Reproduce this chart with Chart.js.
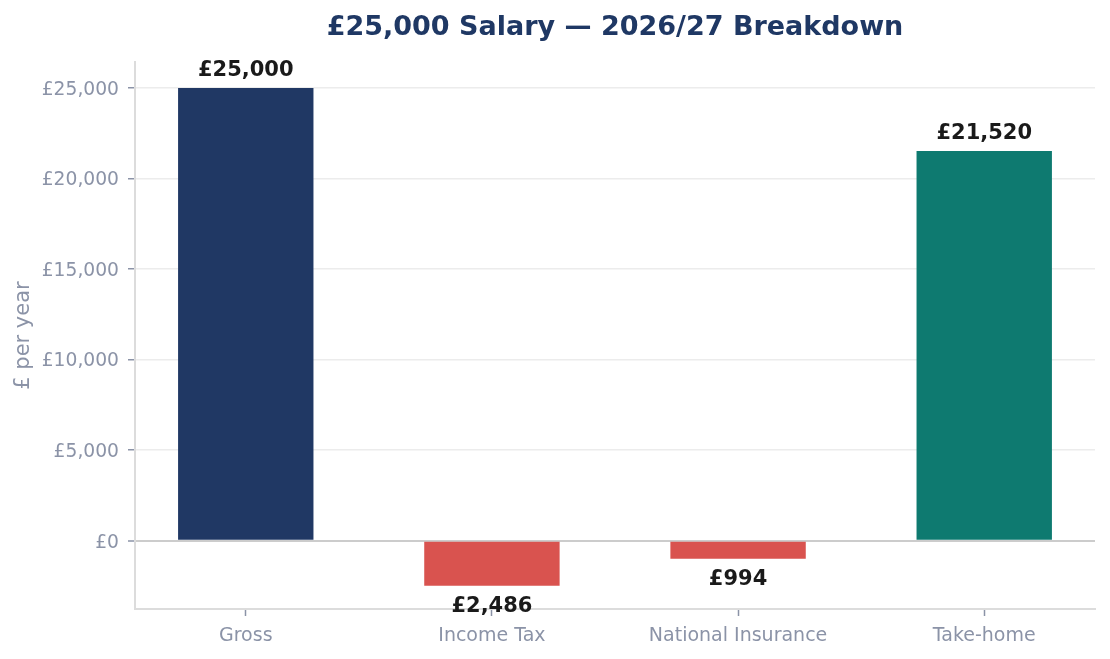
<!DOCTYPE html>
<html>
<head>
<meta charset="utf-8">
<script src="https://cdn.jsdelivr.net/npm/chart.js@4.4.1/dist/chart.umd.min.js"></script>
<style>
html, body { margin: 0; padding: 0; background: #fff; }
#wrap { width: 1110px; height: 659px; position: relative; }
</style>
</head>
<body>
<div id="wrap"><canvas id="grafico"></canvas></div>
<script>
// Datos del gráfico
const titulo = '£25,000 Salary — 2026/27 Breakdown';
const categorias = ['Gross', 'Income Tax', 'National Insurance', 'Take-home'];
const importes = [25000, -2486, -994, 21520];
const colores = ['#203864', '#d9534f', '#d9534f', '#0e7a70'];
const marcasY = [0, 5000, 10000, 15000, 20000, 25000];

const gris = '#8b93a7';
const fuente = "'DejaVu Sans', sans-serif";

function libras(v) {
    return '£' + Math.abs(v).toLocaleString('en-GB');
}

// Título centrado sobre el área del gráfico
const tituloPlugin = {
    id: 'tituloCentrado',
    afterDraw(chart) {
        const ctx = chart.ctx;
        const area = chart.chartArea;
        ctx.save();
        ctx.font = 'bold 27px ' + fuente;
        ctx.fillStyle = '#1f3864';
        ctx.textAlign = 'center';
        ctx.textBaseline = 'middle';
        ctx.fillText(titulo, (area.left + area.right) / 2, 28);
        ctx.restore();
    }
};

// Etiquetas de valor encima / debajo de cada barra
const etiquetasPlugin = {
    id: 'etiquetas',
    afterDatasetsDraw(chart) {
        const ctx = chart.ctx;
        const meta = chart.getDatasetMeta(0);
        ctx.save();
        ctx.font = 'bold 21px ' + fuente;
        ctx.fillStyle = '#1a1a1a';
        ctx.textAlign = 'center';
        meta.data.forEach(function(bar, i) {
            const v = importes[i];
            if (v >= 0) {
                ctx.textBaseline = 'bottom';
                ctx.fillText(libras(v), bar.x, bar.y - 7);
            } else {
                ctx.textBaseline = 'top';
                ctx.fillText(libras(v), bar.x, bar.y + 10);
            }
        });
        ctx.restore();
    }
};

document.addEventListener('DOMContentLoaded', function() {
    const ctx = document.getElementById('grafico').getContext('2d');
    new Chart(ctx, {
        type: 'bar',
        data: {
            datasets: [{
                data: importes.map(function(v, i) { return { x: i, y: v }; }),
                backgroundColor: colores,
                barPercentage: 0.55,
                categoryPercentage: 1
            }]
        },
        options: {
            responsive: true,
            maintainAspectRatio: false,
            animation: false,
            layout: { padding: { top: 62, right: 15, bottom: 0, left: 0 } },
            plugins: {
                legend: { display: false },
                tooltip: { enabled: false }
            },
            scales: {
                x: {
                    type: 'linear',
                    min: -0.45,
                    max: 3.45,
                    offset: false,
                    afterBuildTicks: function(axis) {
                        axis.ticks = categorias.map(function(c, i) { return { value: i }; });
                    },
                    afterFit: function(axis) { axis.height = 50; },
                    ticks: {
                        color: gris,
                        font: { family: fuente, size: 19 },
                        padding: 9,
                        maxRotation: 0,
                        autoSkip: false,
                        callback: function(v) { return categorias[v]; }
                    },
                    grid: {
                        offset: false,
                        drawOnChartArea: false,
                        drawTicks: true,
                        tickLength: 7,
                        tickColor: gris,
                        tickWidth: 1.5
                    },
                    border: { display: true, color: '#dcdcdc', width: 2 }
                },
                y: {
                    min: -3770,
                    max: 26435,
                    afterBuildTicks: function(axis) {
                        axis.ticks = marcasY.map(function(v) { return { value: v }; });
                    },
                    afterFit: function(axis) { axis.width = 135; },
                    ticks: {
                        color: gris,
                        font: { family: fuente, size: 18.7 },
                        padding: 9,
                        labelOffset: 2,
                        callback: function(v) { return libras(v); }
                    },
                    grid: {
                        color: function(c) { return c.tick && c.tick.value === 0 ? '#cccccc' : '#ececec'; },
                        lineWidth: function(c) { return c.tick && c.tick.value === 0 ? 2 : 1.5; },
                        tickLength: 7,
                        tickColor: gris,
                        tickWidth: 1.5
                    },
                    border: { display: true, color: '#dcdcdc', width: 2 },
                    title: {
                        display: true,
                        text: '£ per year',
                        color: gris,
                        font: { family: fuente, size: 21 },
                        padding: { top: 11, bottom: 0 }
                    }
                }
            }
        },
        plugins: [tituloPlugin, etiquetasPlugin]
    });
});
</script>
</body>
</html>
